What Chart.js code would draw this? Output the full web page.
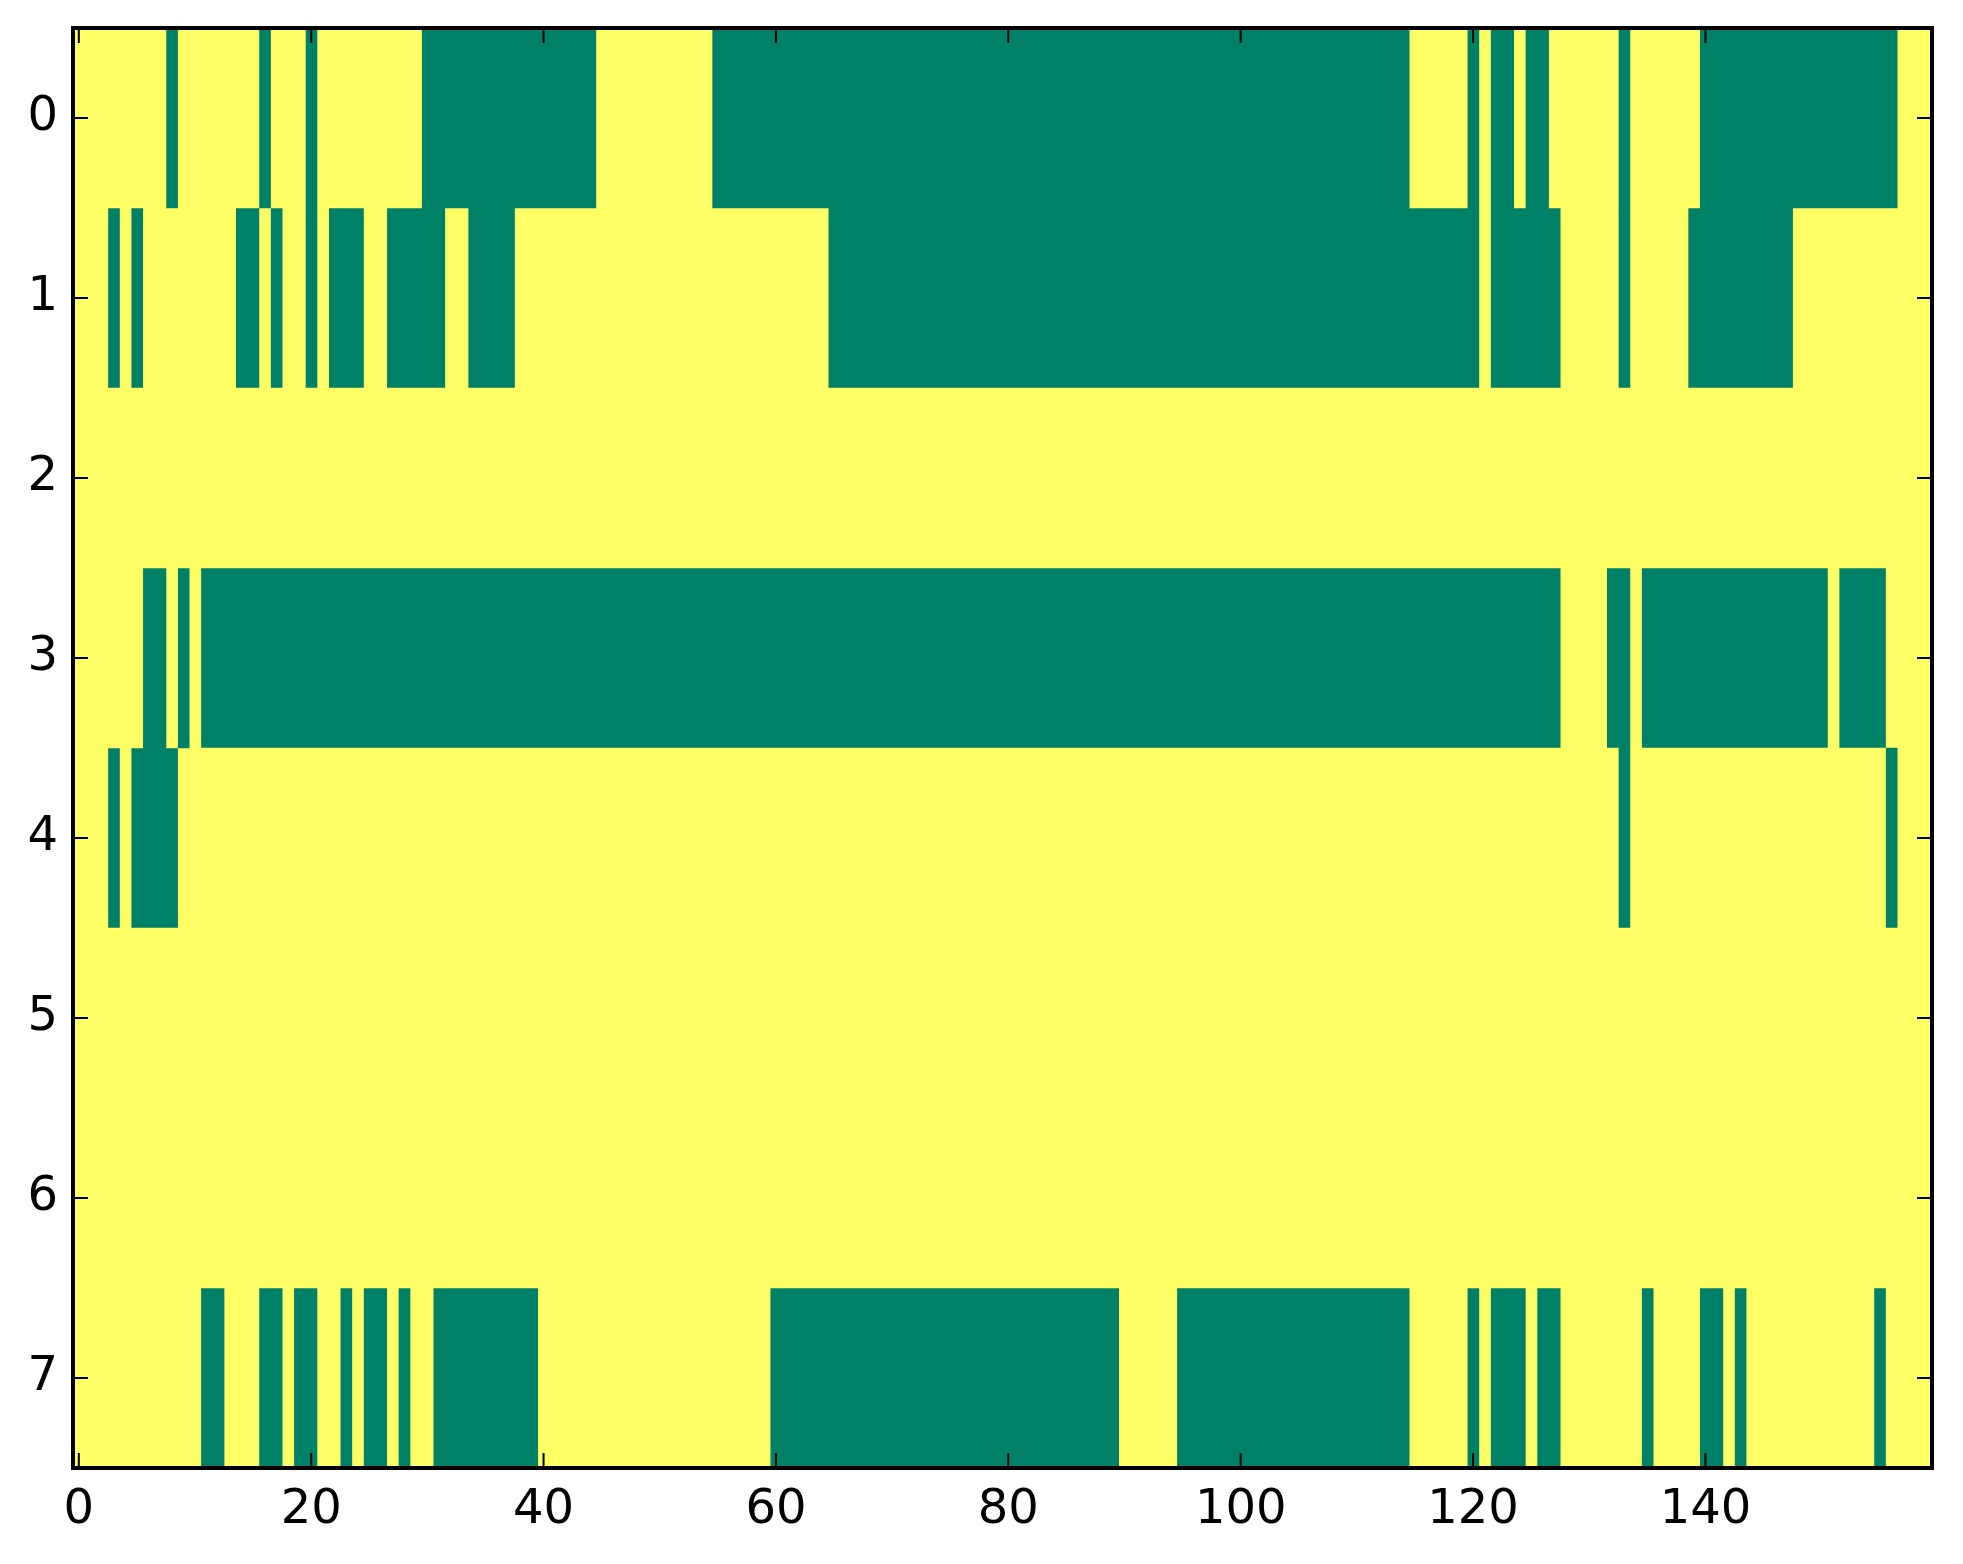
<!DOCTYPE html>
<html><head><meta charset="utf-8">
<script src="https://cdn.jsdelivr.net/npm/chart.js@4.4.1/dist/chart.umd.min.js"></script>
<style>html,body{margin:0;padding:0;background:#fff;}#wrap{width:1963px;height:1564px;position:relative;}</style>
</head><body><div id="wrap"><canvas id="c"></canvas></div>
<script>
// Row labels (y categories) and x tick labels
const rowLabels = ['0','1','2','3','4','5','6','7'];
const nCols = 160;
const xTickValues = [0, 20, 40, 60, 80, 100, 120, 140];
// Column runs [first, last] where the cell value is 1 (green); all other cells are 0 (yellow)
const row0Ones = [[8,8],[16,16],[20,20],[30,44],[55,114],[120,120],[122,123],[125,126],[133,133],[140,156]];
const row1Ones = [[3,3],[5,5],[14,15],[17,17],[20,20],[22,24],[27,31],[34,37],[65,120],[122,127],[133,133],[139,147]];
const row2Ones = [];
const row3Ones = [[6,7],[9,9],[11,127],[132,133],[135,150],[152,155]];
const row4Ones = [[3,3],[5,8],[133,133],[156,156]];
const row5Ones = [];
const row6Ones = [];
const row7Ones = [[11,12],[16,17],[19,20],[23,23],[25,26],[28,28],[31,39],[60,89],[95,114],[120,120],[122,124],[126,127],[135,135],[140,141],[143,143],[155,155]];

const colorZero = '#ffff66';
const colorOne = '#008066';
const tickFont = {family: 'DejaVu Sans', size: 48};

// build 0/1 matrix
const matrix = [row0Ones,row1Ones,row2Ones,row3Ones,row4Ones,row5Ones,row6Ones,row7Ones].map(runs => {
  const a = new Array(nCols).fill(0);
  runs.forEach(([s, e]) => { for (let c = s; c <= e; c++) a[c] = 1; });
  return a;
});
// runs of equal value per row
const rowRuns = matrix.map(a => {
  const out = [];
  let s = 0;
  for (let c = 1; c <= a.length; c++) {
    if (c === a.length || a[c] !== a[s]) { out.push({s: s, e: c - 1, v: a[s]}); s = c; }
  }
  return out;
});
const K = Math.max(...rowRuns.map(r => r.length));
const datasets = [];
for (let k = 0; k < K; k++) {
  datasets.push({
    data: rowRuns.map(r => r[k] ? [r[k].s - 0.5, r[k].e + 0.5] : null),
    backgroundColor: rowRuns.map(r => r[k] ? (r[k].v ? colorOne : colorZero) : colorZero),
    borderWidth: 0,
    borderSkipped: false,
    grouped: false,
    barPercentage: 1,
    categoryPercentage: 1
  });
}

const framePlugin = {
  id: 'frame',
  beforeDatasetsDraw(chart) {
    const {ctx, chartArea: a} = chart;
    ctx.save();
    ctx.fillStyle = colorZero;
    ctx.fillRect(a.left, a.top, a.right - a.left, a.bottom - a.top);
    ctx.restore();
  },
  afterDraw(chart) {
    const {ctx, chartArea: a, scales} = chart;
    const tl = 15;
    ctx.save();
    ctx.strokeStyle = '#000';
    ctx.lineWidth = 2;
    ctx.beginPath();
    scales.x.ticks.forEach(t => {
      const px = scales.x.getPixelForValue(t.value);
      ctx.moveTo(px, a.bottom); ctx.lineTo(px, a.bottom - tl);
      ctx.moveTo(px, a.top); ctx.lineTo(px, a.top + tl);
    });
    scales.y.ticks.forEach((t, i) => {
      const py = scales.y.getPixelForTick(i);
      ctx.moveTo(a.left, py); ctx.lineTo(a.left + tl, py);
      ctx.moveTo(a.right, py); ctx.lineTo(a.right - tl, py);
    });
    ctx.stroke();
    ctx.lineWidth = 4;
    ctx.strokeRect(a.left, a.top, a.right - a.left, a.bottom - a.top);
    ctx.restore();
  }
};

new Chart(document.getElementById('c'), {
  type: 'bar',
  data: {labels: rowLabels, datasets: datasets},
  plugins: [framePlugin],
  options: {
    indexAxis: 'y',
    responsive: true,
    maintainAspectRatio: false,
    animation: false,
    layout: {padding: {top: 28, right: 31, left: 0, bottom: 0}},
    plugins: {legend: {display: false}, tooltip: {enabled: false}},
    scales: {
      x: {
        type: 'linear', position: 'bottom', min: -0.5, max: nCols - 0.5,
        grid: {display: false, drawTicks: false},
        border: {display: false},
        afterBuildTicks: s => { s.ticks = xTickValues.map(v => ({value: v})); },
        afterFit: s => { s.height = 96; s.paddingLeft = 0; s.paddingRight = 0; },
        ticks: {font: tickFont, color: '#000', padding: 14, maxRotation: 0, autoSkip: false}
      },
      y: {
        type: 'category',
        grid: {display: false, drawTicks: false},
        border: {display: false},
        afterFit: s => { s.width = 73; s.paddingTop = 0; s.paddingBottom = 0; },
        ticks: {font: tickFont, color: '#000', padding: 15, autoSkip: false}
      }
    }
  }
});
</script>
</body></html>
